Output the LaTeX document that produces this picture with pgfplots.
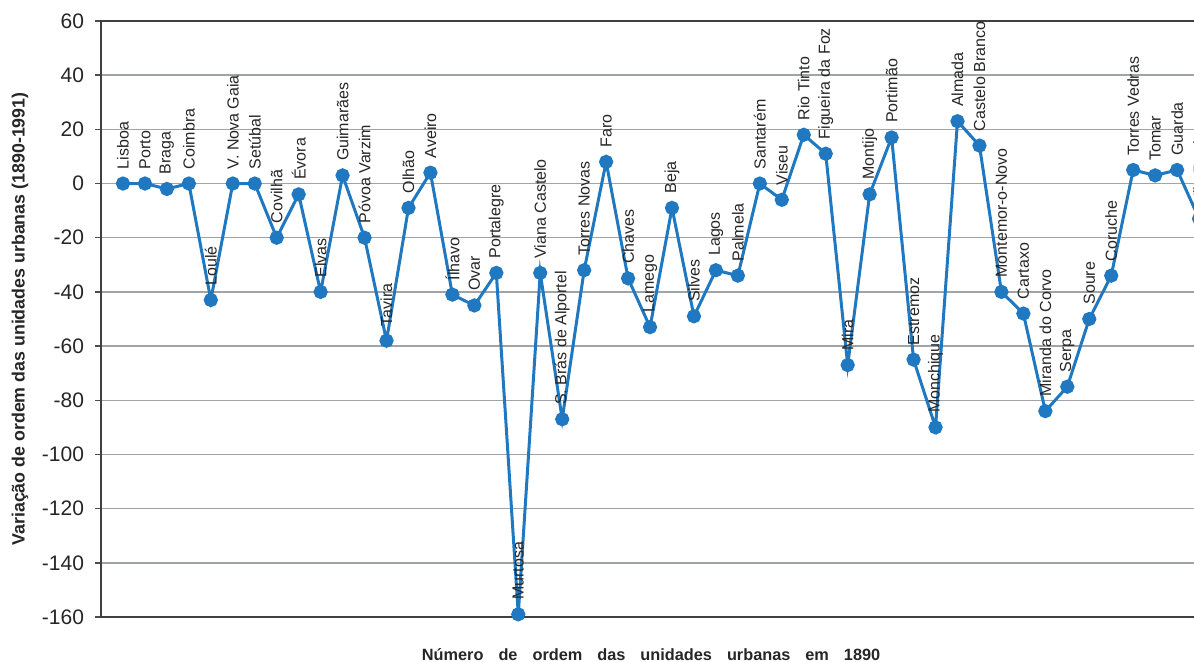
\documentclass[border=0pt]{standalone}
\usepackage{fontspec}
\setmainfont{Liberation Sans}
\usepackage{pgfplots}
\pgfplotsset{compat=1.18}
\definecolor{lineblue}{RGB}{31,120,192}
\definecolor{gridgray}{RGB}{160,164,168}
\definecolor{framegray}{RGB}{140,145,150}
\begin{document}
\begin{tikzpicture}
\begin{axis}[
  scale only axis, width=554.5pt, height=298pt,
  xmin=0, xmax=50.5, ymin=-160, ymax=60,
  ytick={-160,-140,...,60},
  xtick=\empty,
  ymajorgrids, grid style={gridgray, line width=0.75pt},
  ytick pos=left, tick align=outside, major tick length=3pt,
  tick style={black!70, line width=0.75pt},
  x axis line style={framegray, line width=1.5pt},
  y axis line style={black!75, line width=1pt},
  /pgf/number format/assume math mode=true,
  yticklabel style={font=\fontsize{10.5}{12}\selectfont, text=black!85, xshift=-2pt},
  ylabel={Variação de ordem das unidades urbanas (1890-1991)},
  ylabel style={font=\bfseries\fontsize{8.9}{10}\selectfont, text=black!85, at={(axis description cs:-0.0730,0.5)}, anchor=center},
  xlabel={Número\hspace{7.5pt}de\hspace{7.5pt}ordem\hspace{7.5pt}das\hspace{7.5pt}unidades\hspace{7.5pt}urbanas\hspace{7.5pt}em\hspace{7.5pt}1890},
  xlabel style={font=\bfseries\fontsize{8.15}{10}\selectfont, text=black!85, at={(axis description cs:0.496,0)}, anchor=base, yshift=-21.5pt},
]
\addplot[lineblue, line width=1.5pt, mark=*, mark size=2.8pt,
  mark options={solid, fill=lineblue, draw=none},
  nodes near coords, point meta=explicit symbolic,
  every node near coord/.append style={rotate=90, anchor=west, inner xsep=6.5pt, inner ysep=0pt, font=\fontsize{8}{9}\selectfont, text=black!85}]
  table[x=x, y=y, meta=label, col sep=comma] {
x,y,label
1,0,Lisboa
2,0,Porto
3,-2,Braga
4,0,Coimbra
5,-43,Loulé
6,0,V. Nova Gaia
7,0,Setúbal
8,-20,Covilhã
9,-4,Évora
10,-40,Elvas
11,3,Guimarães
12,-20,Póvoa Varzim
13,-58,Tavira
14,-9,Olhão
15,4,Aveiro
16,-41,Ílhavo
17,-45,Ovar
18,-33,Portalegre
19,-159,Murtosa
20,-33,Viana Castelo
21,-87,S. Brás de Alportel
22,-32,Torres Novas
23,8,Faro
24,-35,Chaves
25,-53,Lamego
26,-9,Beja
27,-49,Silves
28,-32,Lagos
29,-34,Palmela
30,0,Santarém
31,-6,Viseu
32,18,Rio Tinto
33,11,Figueira da Foz
34,-67,Mira
35,-4,Montijo
36,17,Portimão
37,-65,Estremoz
38,-90,Monchique
39,23,Almada
40,14,Castelo Branco
41,-40,Montemor-o-Novo
42,-48,Cartaxo
43,-84,Miranda do Corvo
44,-75,Serpa
45,-50,Soure
46,-34,Coruche
47,5,Torres Vedras
48,3,Tomar
49,5,Guarda
50,-13,Vila Real
};
\coordinate (BL) at (axis cs:-4.6,-176.25);
\coordinate (TR) at (axis cs:49.77,67.75);
\end{axis}
\pgfresetboundingbox
\useasboundingbox (BL) rectangle (TR);
\end{tikzpicture}
\end{document}
